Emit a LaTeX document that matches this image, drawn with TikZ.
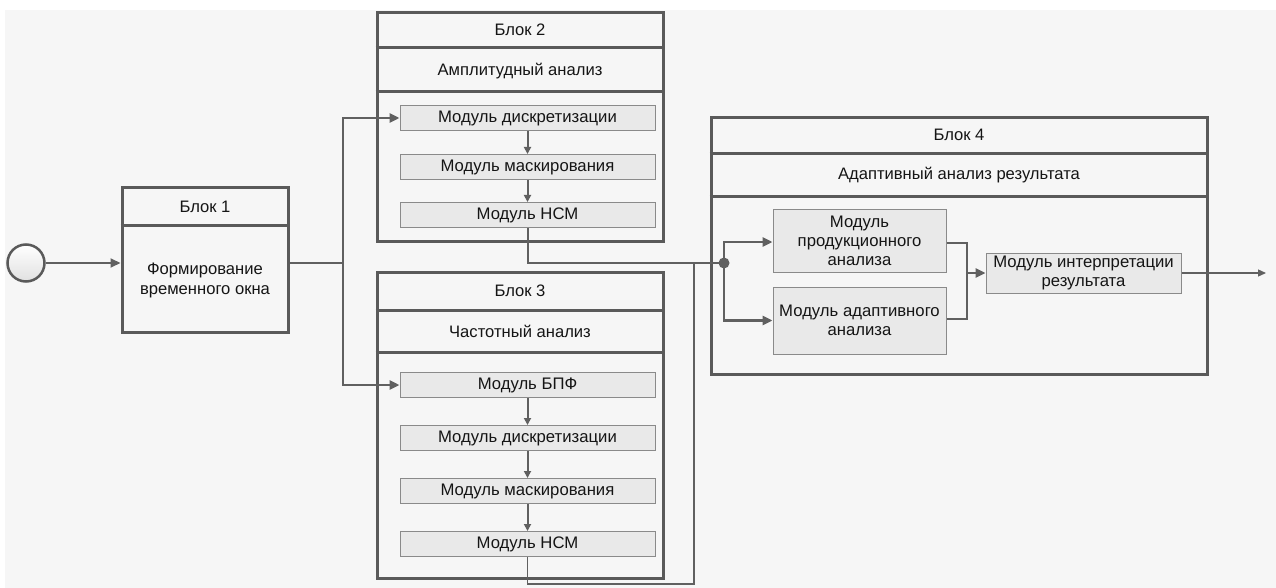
\documentclass[tikz,border=0pt]{standalone}
\usepackage{fontspec}
\setmainfont{Liberation Sans}
\usetikzlibrary{arrows.meta,calc}
\definecolor{bgc}{HTML}{F6F6F6}
\definecolor{edge}{HTML}{5A5A5A}
\definecolor{wire}{HTML}{606060}
\definecolor{modfill}{HTML}{E9E9E9}
\definecolor{modedge}{HTML}{8A8A8A}
\definecolor{ink}{HTML}{151515}
\begin{document}
\begin{tikzpicture}[x=1pt,y=-1pt,
  blockbox/.style={draw=edge,line width=3pt,fill=none,inner sep=0pt},
  divider/.style={draw=edge,line width=3pt},
  title/.style={text=ink,font=\fontsize{16.6}{19}\selectfont,inner sep=0pt},
  body/.style={text=ink,font=\fontsize{16.6}{20}\selectfont,align=center,inner sep=0pt},
  module/.style={draw=modedge,line width=1pt,fill=modfill,inner sep=0pt,
    text=ink,font=\fontsize{16.7}{19}\selectfont,align=center},
  wide/.style={module,minimum width=255pt,minimum height=25pt},
  wire/.style={draw=wire,line width=2pt},
  heavy/.style={draw=wire,line width=2.8pt},
  bigtip/.style={-{Triangle[length=10pt,width=9pt]}},
  smalltip/.style={-{Triangle[length=7pt,width=7pt]}},
  joint/.style={circle,fill=wire,draw=none,minimum size=11pt,inner sep=0pt}]

% canvas
\useasboundingbox (0,0) rectangle (1276,588);
\fill[white] (0,0) rectangle (1276,588);
\fill[bgc] (5,10) rectangle (1276,588);

% start event
\node[circle,draw=edge,line width=2.5pt,minimum size=37pt,inner sep=0pt,
  top color=white,bottom color=black!12] (s) at (26,263) {};

% Block 1
\node[blockbox,minimum width=166pt,minimum height=144pt] (b1) at (205,260) {};
\draw[divider] (b1.west |- 0,225) -- (b1.east |- 0,225);
\node[title] (b1h) at (205,207) {Блок 1};
\node[body] (b1t) at (205,280) {Формирование\\временного окна};

% Block 2
\node[blockbox,minimum width=286pt,minimum height=228pt] (b2) at (520,127) {};
\draw[divider] (b2.west |- 0,48) -- (b2.east |- 0,48);
\draw[divider] (b2.west |- 0,92) -- (b2.east |- 0,92);
\node[title] (b2h) at (520,30) {Блок 2};
\node[title] (b2s) at (520,71) {Амплитудный анализ};
\node[wide] (m21) at (527.5,118) {Модуль дискретизации};
\node[wide] (m22) at (527.5,167) {Модуль маскирования};
\node[wide] (m23) at (527.5,215) {Модуль НСМ};

% Block 3
\node[blockbox,minimum width=286pt,minimum height=306pt] (b3) at (520,425) {};
\draw[divider] (b3.west |- 0,310) -- (b3.east |- 0,310);
\draw[divider] (b3.west |- 0,352) -- (b3.east |- 0,352);
\node[title] (b3h) at (520,291) {Блок 3};
\node[title] (b3s) at (520,331) {Частотный анализ};
\node[wide] (m31) at (527.5,385) {Модуль БПФ};
\node[wide] (m32) at (527.5,438) {Модуль дискретизации};
\node[wide] (m33) at (527.5,491) {Модуль маскирования};
\node[wide] (m34) at (527.5,544) {Модуль НСМ};

% Block 4
\node[blockbox,minimum width=496pt,minimum height=256pt] (b4) at (959,246) {};
\draw[divider] (b4.west |- 0,154) -- (b4.east |- 0,154);
\draw[divider] (b4.west |- 0,197) -- (b4.east |- 0,197);
\node[title] (b4h) at (959,135) {Блок 4};
\node[title] (b4s) at (959,175) {Адаптивный анализ результата};
\node[module,minimum width=173pt,minimum height=63pt] (p) at (859.5,240.5)
  {Модуль\\продукционного\\анализа};
\node[module,minimum width=173pt,minimum height=67pt] (a) at (859.5,320.5)
  {Модуль адаптивного\\анализа};
\node[module,minimum width=195pt,minimum height=40pt] (r) at (1083.5,273)
  {Модуль интерпретации\\результата};

% routing points
\coordinate (t) at (343,263);
\coordinate (j) at (724,263);
\coordinate (c1) at (694,584);
\coordinate (mg) at (967,273);
\coordinate (o) at (1266,273);

% start to Block 1, Block 1 to both analysis blocks
\draw[wire,bigtip] (s.east) -- (s.east -| b1.west);
\draw[heavy] (t -| b1.east) -- (t);
\draw[heavy,bigtip] (t) |- (m21.west);
\draw[heavy,bigtip] (t) |- (m31.west);

% chains inside Block 2 and Block 3
\draw[wire,smalltip] (m21) -- (m22);
\draw[wire,smalltip] (m22) -- (m23);
\draw[wire,smalltip] (m31) -- (m32);
\draw[wire,smalltip] (m32) -- (m33);
\draw[wire,smalltip] (m33) -- (m34);

% outputs of Block 2 and Block 3 join at j
\draw[wire] (m23.south) |- (j);
\draw[wire,line width=1.6pt] (m34.south) |- (c1) -- (c1 |- j);

% Block 4 internals
\draw[heavy,bigtip] (j) |- ($(p.west)+(0,1.5)$);
\draw[heavy,bigtip] (j) |- (a.west);
\draw[heavy] ($(p.east)+(0,2.5)$) -| (mg);
\draw[heavy] ($(a.east)+(0,-1.5)$) -| (mg);
\draw[heavy,bigtip] (mg) -- (r.west);
\draw[wire,line width=1.2pt,-{Triangle[length=8pt,width=7pt]}] (r.east) -- (o);
\node[joint] (jd) at (j) {};
\end{tikzpicture}
\end{document}
